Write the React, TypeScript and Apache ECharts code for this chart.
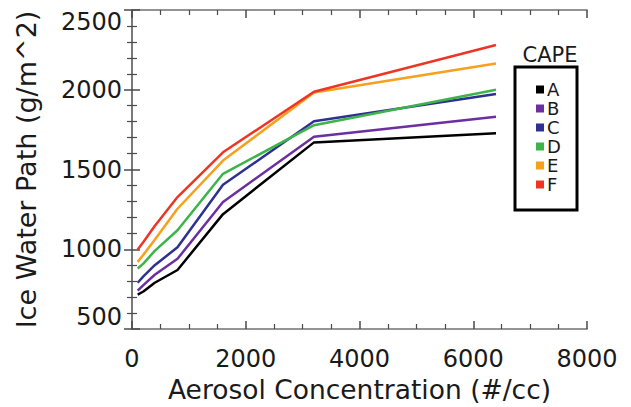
import React, { useEffect, useRef } from "react";
import * as echarts from "echarts";

const aerosol = [100, 200, 400, 800, 1600, 3200, 6400];
const seriesNames = ["A", "B", "C", "D", "E", "F"];
const capeA = [716, 735, 790, 870, 1220, 1670, 1727];
const capeB = [740, 775, 840, 940, 1296, 1706, 1831];
const capeC = [790, 830, 900, 1012, 1404, 1802, 1973];
const capeD = [879, 910, 990, 1119, 1473, 1778, 2000];
const capeE = [921, 965, 1060, 1254, 1556, 1983, 2164];
const capeF = [998, 1046, 1146, 1327, 1608, 1987, 2281];
const colors = ["#000000", "#6b2fa2", "#2e3192", "#3cb44a", "#f7a01d", "#ee3524"];
const xTicks = [0, 2000, 4000, 6000, 8000];
const yTicks = [500, 1000, 1500, 2000, 2500];

const allValues = [capeA, capeB, capeC, capeD, capeE, capeF];

export default function App() {
  const ref = useRef<HTMLDivElement>(null);
  useEffect(() => {
    if (!ref.current) return;
    document.body.style.margin = "0";
    const chart = echarts.init(ref.current, undefined, { renderer: "svg" });
    const font = "DejaVu Sans";
    const tickColor = "#4a4a4a";
    const axisLine = { show: true, lineStyle: { color: "#707070", width: 1.5 } };
    const axisTick = { show: true, inside: true, length: 8, lineStyle: { color: tickColor, width: 1.5 } };
    const minorTick = { show: true, length: 5, lineStyle: { color: tickColor, width: 1.2 } };
    chart.setOption({
      animation: false,
      backgroundColor: "#ffffff",
      textStyle: { fontFamily: font },
      grid: { left: 132, right: 44, top: 10, bottom: 78, containLabel: false, outerBoundsMode: "none" },
      legend: {
        orient: "vertical",
        left: 536,
        top: 80,
        padding: 0,
        itemGap: 0,
        itemWidth: 8,
        itemHeight: 8,
        icon: "rect",
        data: seriesNames,
        textStyle: { fontSize: 18, color: "#1a1a1a", lineHeight: 19, fontFamily: font, padding: [0, 0, 0, -2] },
      },
      graphic: [
        {
          type: "rect",
          shape: { x: 515, y: 67, width: 62, height: 143 },
          style: { fill: "#ffffff", stroke: "#000000", lineWidth: 3 },
          z: 0,
        },
        {
          type: "text",
          x: 550,
          y: 55,
          style: { text: "CAPE", fontSize: 21, fontFamily: font, fill: "#1a1a1a", align: "center", verticalAlign: "middle" },
        },
      ],
      xAxis: [
        {
          type: "value",
          min: xTicks[0],
          max: xTicks[xTicks.length - 1],
          interval: 2000,
          name: "Aerosol Concentration (#/cc)",
          nameLocation: "middle",
          nameGap: 46,
          nameTextStyle: { fontSize: 26.5, color: "#1a1a1a", fontFamily: font },
          axisLine,
          axisTick,
          minorTick: { ...minorTick, splitNumber: 4 },
          splitLine: { show: false },
          axisLabel: { fontSize: 24, color: "#1a1a1a", margin: 18, fontFamily: font, formatter: (v: number) => String(v) },
        },
        {
          type: "value",
          position: "top",
          min: xTicks[0],
          max: xTicks[xTicks.length - 1],
          interval: 2000,
          axisLine,
          axisTick,
          minorTick: { ...minorTick, splitNumber: 4 },
          splitLine: { show: false },
          axisLabel: { show: false },
        },
      ],
      yAxis: [
        {
          type: "value",
          min: yTicks[0],
          max: yTicks[yTicks.length - 1],
          interval: 500,
          name: "Ice Water Path (g/m^2)",
          nameLocation: "middle",
          nameGap: 92,
          nameTextStyle: { fontSize: 27, color: "#1a1a1a", fontFamily: font },
          axisLine,
          axisTick,
          minorTick: { ...minorTick, splitNumber: 5 },
          splitLine: { show: false },
          axisLabel: {
            fontSize: 24,
            color: "#1a1a1a",
            margin: 10,
            fontFamily: font,
            formatter: (v: number) => String(v),
            verticalAlignMinLabel: "bottom",
            verticalAlignMaxLabel: "top",
          },
        },
        {
          type: "value",
          position: "right",
          min: yTicks[0],
          max: yTicks[yTicks.length - 1],
          interval: 500,
          axisLine,
          axisTick,
          minorTick: { ...minorTick, splitNumber: 5 },
          splitLine: { show: false },
          axisLabel: { show: false },
        },
      ],
      series: allValues.map((vals, i) => ({
        name: seriesNames[i],
        type: "line",
        xAxisIndex: 0,
        yAxisIndex: 0,
        data: aerosol.map((x, j) => [x, vals[j]]),
        showSymbol: false,
        symbol: "rect",
        lineStyle: { color: colors[i], width: 2.5 },
        itemStyle: { color: colors[i] },
        z: 2 + i,
      })),
    });
    return () => chart.dispose();
  }, []);
  return <div ref={ref} style={{ width: 631, height: 407 }} />;
}
